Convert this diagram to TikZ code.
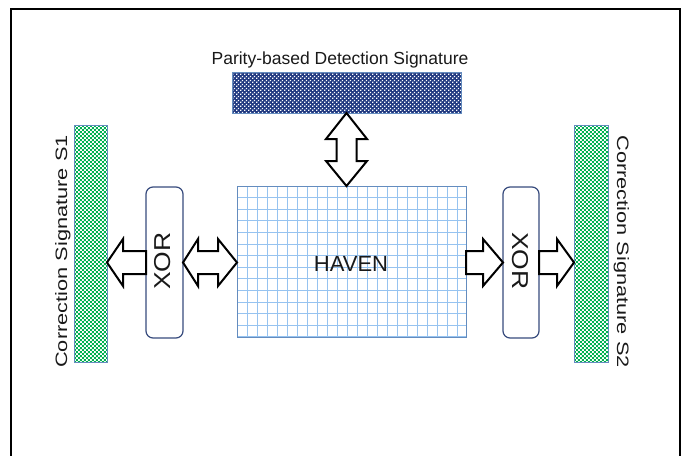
\documentclass[tikz,border=0pt]{standalone}
\usepackage{fontspec}
\setmainfont{Liberation Sans}
\usetikzlibrary{patterns,calc}
\definecolor{navyc}{RGB}{32,56,128}
\definecolor{greenc}{RGB}{0,176,80}
\definecolor{edgec}{RGB}{100,140,190}
\definecolor{xoredge}{RGB}{55,75,125}
\definecolor{gridc}{RGB}{150,195,240}
\definecolor{textc}{RGB}{25,25,25}
\pgfdeclarepatternformonly{finechecker}{\pgfpointorigin}{\pgfqpoint{4.4pt}{4.4pt}}{\pgfqpoint{4.4pt}{4.4pt}}{%
  \pgfpathrectangle{\pgfpointorigin}{\pgfqpoint{2.2pt}{2.2pt}}%
  \pgfpathrectangle{\pgfqpoint{2.2pt}{2.2pt}}{\pgfqpoint{2.2pt}{2.2pt}}%
  \pgfusepath{fill}}
\pgfdeclarepatternformonly{finedots}{\pgfpointorigin}{\pgfqpoint{4pt}{4pt}}{\pgfqpoint{4pt}{4pt}}{%
  \pgfpathrectangle{\pgfqpoint{0.2pt}{0.2pt}}{\pgfqpoint{1.6pt}{1.6pt}}%
  \pgfpathrectangle{\pgfqpoint{2.2pt}{2.2pt}}{\pgfqpoint{1.6pt}{1.6pt}}%
  \pgfusepath{fill}}
\begin{document}
\begin{tikzpicture}[x=1pt,y=-1pt,
  blockbox/.style={draw=edgec,line width=0.9pt,inner sep=0pt,outer sep=0pt},
  xorbox/.style={draw=xoredge,line width=1.2pt,rounded corners=7pt,fill=white,inner sep=0pt,outer sep=0pt,minimum width=37pt,minimum height=151pt},
  greenbox/.style={blockbox,pattern=finechecker,pattern color=greenc,minimum width=33pt,minimum height=237pt},
  gridline/.style={color=gridc,line width=0.9pt},
  blockarrow/.style={draw=black,line width=2pt,fill=white,line join=miter},
  lbl/.style={text=textc,inner sep=0pt},
  frameline/.style={line width=2.5pt,black}]
\useasboundingbox (0,0) rectangle (690,455);
\draw[frameline] (11,470) -- (11,9) -- (680,9) -- (680,470);

% detection signature
\node[blockbox,preaction={fill=navyc},pattern=finedots,pattern color=white,minimum width=229pt,minimum height=41pt] (det) at (346.5,92.5) {};
\node[lbl,anchor=base] (dettext) at (340,64.5) {\fontsize{17.5}{20}\selectfont Parity-based Detection Signature};

% HAVEN grid
\begin{scope}[gridline]
\foreach \x in {247,257,...,466} \draw (\x,186) -- (\x,337);
\foreach \y in {197.6,209.2,...,337} \draw (237,\y) -- (466,\y);
\end{scope}
\node[blockbox,minimum width=229pt,minimum height=151pt] (haven) at (351.5,261.5) {};
\node[lbl,anchor=base] (haventext) at (351,271) {\fontsize{22}{25}\selectfont HAVEN};

% XOR boxes
\node[xorbox] (lxor) at (164.5,262.5) {};
\node[xorbox,minimum width=36pt] (rxor) at (521,262.5) {};
\node[lbl,rotate=90,anchor=base] (lxortext) at (170,261) {\fontsize{23}{26}\selectfont\scalebox{1.15}[1]{XOR}};
\node[lbl,rotate=-90,anchor=base] (rxortext) at (512,261) {\fontsize{23}{26}\selectfont\scalebox{1.15}[1]{XOR}};

% correction signatures
\node[greenbox] (lgreen) at (90.5,243.5) {};
\node[greenbox,minimum width=34pt] (rgreen) at (591,243.5) {};
\node[lbl,rotate=90,anchor=base] (lgtext) at (67,251.5) {\fontsize{16.5}{19}\selectfont\scalebox{1.32}[1]{Correction Signature S1}};
\node[lbl,rotate=-90,anchor=base] (rgtext) at (617,251.5) {\fontsize{16.5}{19}\selectfont\scalebox{1.32}[1]{Correction Signature S2}};

% vertical double arrow
\coordinate (vt) at (det.south);
\coordinate (vb) at (det.south |- haven.north);
\draw[blockarrow] (vt) -- ($(vt)+(20.5,26)$) -- ($(vt)+(10,26)$) -- ($(vb)+(10,-25)$) -- ($(vb)+(20.5,-25)$)
  -- (vb) -- ($(vb)+(-20.5,-25)$) -- ($(vb)+(-10,-25)$) -- ($(vt)+(-10,26)$) -- ($(vt)+(-20.5,26)$) -- cycle;

% left single arrow: XOR -> S1
\coordinate (la) at (lxor.west);
\coordinate (lt) at (lgreen.east |- lxor.west);
\draw[blockarrow] (lt) -- ($(lt)+(16,-23.5)$) -- ($(lt)+(16,-11.5)$) -- ($(la)+(0,-11.5)$)
  -- ($(la)+(0,11.5)$) -- ($(lt)+(16,11.5)$) -- ($(lt)+(16,23.5)$) -- cycle;

% left double arrow: XOR <-> HAVEN
\coordinate (dl) at (lxor.east);
\coordinate (dr) at (haven.west |- lxor.east);
\draw[blockarrow] (dl) -- ($(dl)+(15,-23.5)$) -- ($(dl)+(15,-11.5)$) -- ($(dr)+(-19,-11.5)$) -- ($(dr)+(-19,-23.5)$)
  -- (dr) -- ($(dr)+(-19,23.5)$) -- ($(dr)+(-19,11.5)$) -- ($(dl)+(15,11.5)$) -- ($(dl)+(15,23.5)$) -- cycle;

% right arrow: HAVEN -> XOR
\coordinate (ra) at (haven.east |- rxor.west);
\coordinate (rt) at (rxor.west);
\draw[blockarrow] ($(ra)+(0,-11.5)$) -- ($(rt)+(-20,-11.5)$) -- ($(rt)+(-20,-23.5)$) -- (rt)
  -- ($(rt)+(-20,23.5)$) -- ($(rt)+(-20,11.5)$) -- ($(ra)+(0,11.5)$) -- cycle;

% right arrow: XOR -> S2
\coordinate (sa) at (rxor.east);
\coordinate (st) at (rgreen.west |- rxor.east);
\draw[blockarrow] ($(sa)+(0,-11.5)$) -- ($(st)+(-17,-11.5)$) -- ($(st)+(-17,-23.5)$) -- (st)
  -- ($(st)+(-17,23.5)$) -- ($(st)+(-17,11.5)$) -- ($(sa)+(0,11.5)$) -- cycle;
\end{tikzpicture}
\end{document}
